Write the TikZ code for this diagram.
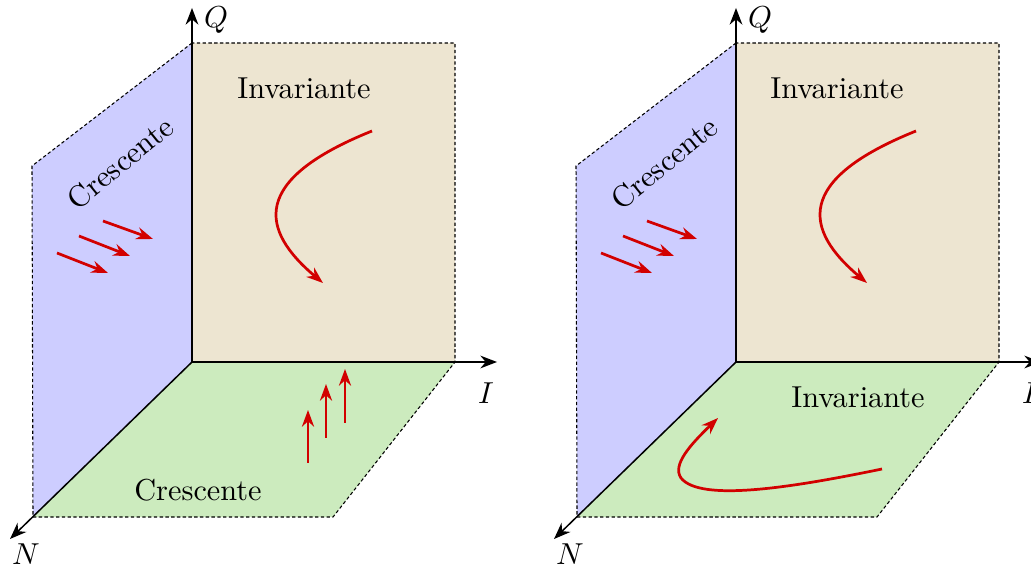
\documentclass[tikz,border=0pt]{standalone}
\usepackage{amsmath}
\usepackage{xcolor}
\usetikzlibrary{arrows.meta}

\definecolor{sidecol}{RGB}{205,205,255}
\definecolor{backcol}{RGB}{237,229,209}
\definecolor{floorcol}{RGB}{204,235,190}
\definecolor{flowred}{RGB}{210,0,0}

\tikzset{
    planeedge/.style={dash pattern=on 1.1pt off 0.8pt, line width=0.35pt},
    axisline/.style={-{Stealth[length=5.5pt, width=4.2pt]}, line width=0.5pt},
    flow/.style={-{Stealth[length=5.5pt, width=4pt]}, line width=0.9pt, flowred},
}

\begin{document}
\begin{tikzpicture}[x=0.0116cm, y=-0.0116cm]
    \clip (0,0) rectangle (1031,569);

    % The two panels share planes, axes and the side arrows
    \foreach \p/\dx/\tx in {l/0/304, r/544/293} {
    \begin{scope}[shift={(\dx,0)}]
        \coordinate (\p-o) at (192,362);
        \coordinate (\p-q) at (192,43);
        \coordinate (\p-b) at (455,43);
        \coordinate (\p-i) at (455,362);
        \coordinate (\p-s) at (32,166);
        \coordinate (\p-n) at (33,517);
        \coordinate (\p-f) at (333,517);
        \coordinate (\p-qtip) at (192,8);
        \coordinate (\p-itip) at (497,362);
        \coordinate (\p-ntip) at (10,539);

        % Planes
        \fill[sidecol] (\p-o) -- (\p-q) -- (\p-s) -- (\p-n) -- cycle;
        \fill[backcol] (\p-o) -- (\p-q) -- (\p-b) -- (\p-i) -- cycle;
        \fill[floorcol] (\p-o) -- (\p-i) -- (\p-f) -- (\p-n) -- cycle;
        \draw[planeedge] (\p-q) -- (\p-s) -- (\p-n) -- (\p-f) -- (\p-i) -- (\p-b) -- (\p-q);

        % Axes
        \draw[axisline] (\p-o) -- (\p-qtip);
        \draw[axisline] (\p-o) -- (\p-itip);
        \draw[axisline] (\p-o) -- (\p-ntip);
        \node (\p-ql) at (216,20) {$Q$};
        \node (\p-il) at (486,393) {$I$};
        \node (\p-nl) at (26,554) {$N$};

        % Labels on the planes
        \node[rotate=39] (\p-side) at (120,163) {Crescente};
        \node (\p-back) at (\tx,88) {Invariante};

        % Flow on the side plane
        \foreach \a/\b/\c/\d in {103/221/153/239, 79/236/130/256, 57/253/108/273}
            \draw[flow] (\a,\b) -- (\c,\d);

        % Flow on the back plane
        \draw[flow] (372,131) .. controls (250,180) and (260,230) .. (323,283);
    \end{scope}
    }

    % Left floor: growing
    \node (l-floor) at (198,490) {Crescente};
    \foreach \x/\a/\b in {308/463/410, 326/438/384, 345/423/369}
        \draw[flow] (\x,\a) -- (\x,\b);

    % Right floor: invariant
    \node (r-floor) at (858,397) {Invariante};
    \draw[flow] (882,469) .. controls (790,488) and (700,502) .. (681,478)
        .. controls (672,465) and (690,445) .. (718,418);
\end{tikzpicture}
\end{document}
